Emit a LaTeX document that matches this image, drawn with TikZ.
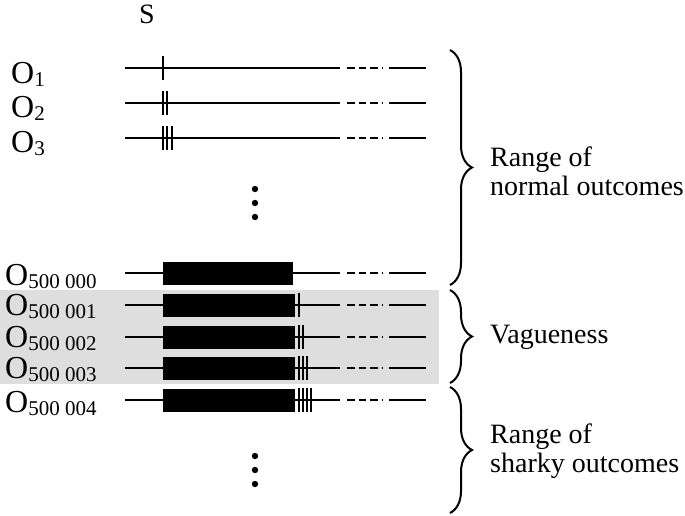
\documentclass[tikz,border=0pt]{standalone}
\usepackage{fontspec}
\setmainfont{Liberation Serif}
\usetikzlibrary{decorations.pathreplacing}
\definecolor{vagueshade}{gray}{0.87}
\newcommand{\osub}[1]{\raisebox{-3.5pt}{\fontsize{21}{21}\selectfont #1}}

\begin{document}
\begin{tikzpicture}[
  x=1pt,y=-1pt,
  rowline/.style={line width=2.5pt},
  tickmark/.style={line width=2pt},
  olabel/.style={anchor=base west,inner sep=0pt,font=\fontsize{32}{32}\selectfont},
  rangebrace/.style={decorate,decoration={brace,amplitude=22pt},line width=2pt},
  rangelabel/.style={anchor=west,align=left,inner sep=0pt,font=\fontsize{28}{29}\selectfont}
]
  \useasboundingbox (0,0) rectangle (685,515);
  \fill[vagueshade] (0,290) rectangle (439,384);

  \node[font=\fontsize{28}{28}\selectfont] (S) at (147,14) {S};

  \foreach \y/\lx/\lb/\txt [count=\i] in {68/11/83/1, 103/11/117/2, 138/11/152/3,
      273/5/285/500 000, 305/5/315/500 001, 337/5/347/500 002, 368/5/378/500 003, 400/5/412/500 004}{
    \node[olabel] (O\i) at (\lx,\lb) {O\osub{\txt}};
    \draw[rowline] (125,\y) -- (340,\y);
    \draw[rowline,dash pattern=on 7.5pt off 4pt] (347,\y) -- (382.5,\y);
    \draw[rowline] (389,\y) -- (426,\y);
  }

  \foreach \y/\n in {68/1,103/2,138/3}
    \foreach \k in {1,...,\n}
      \draw[tickmark] ({163+4.3*(\k-1)},{\y-12}) -- ++(0,24);

  \fill (163,261.5) rectangle (293,284.5);
  \foreach \y/\n in {305/1,337/2,368/3,400/4}{
    \fill (163,{\y-11.5}) rectangle (295,{\y+11.5});
    \foreach \k in {1,...,\n}
      \draw[tickmark] ({298.5+4.3*(\k-1)},{\y-12}) -- ++(0,24);
  }

  \foreach \y in {189,203,217,456,470,484}
    \fill (255,\y) circle (3.2pt);

  \draw[rangebrace] (450,50) -- (450,285);
  \draw[rangebrace] (450,290) -- (450,383);
  \draw[rangebrace] (450,387) -- (450,513);

  \node[rangelabel] (normal) at (490,171.5) {Range of\\normal outcomes};
  \node[rangelabel] (vague)  at (490,337.5) {Vagueness};
  \node[rangelabel] (sharky) at (490,451.5) {Range of\\sharky outcomes};
\end{tikzpicture}
\end{document}
